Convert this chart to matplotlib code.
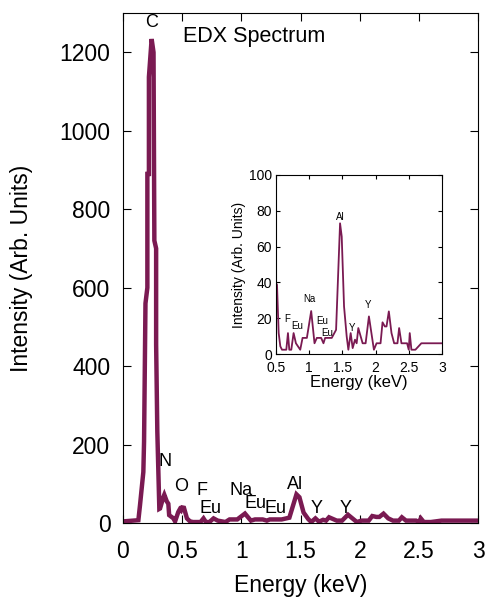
import matplotlib.pyplot as plt

plt.rcParams['font.family'] = ['Liberation Sans', 'DejaVu Sans']

# spectrum (keV, counts)
energy = [0.0, 0.13, 0.144, 0.172, 0.178, 0.19, 0.206, 0.206, 0.219, 0.219, 0.242,
          0.258, 0.265, 0.28, 0.28, 0.29, 0.307, 0.313, 0.341, 0.349, 0.37, 0.383,
          0.39, 0.425, 0.44,
          0.467, 0.48, 0.49, 0.5, 0.515, 0.54, 0.565, 0.59, 0.655, 0.68, 0.70,
          0.73, 0.765, 0.8, 0.865, 0.9, 0.965, 1.03, 1.08, 1.115, 1.18, 1.215,
          1.24, 1.34, 1.405, 1.465, 1.49, 1.525, 1.565, 1.59, 1.625, 1.655, 1.69,
          1.715, 1.74, 1.805, 1.85, 1.9, 1.975, 2.015, 2.075, 2.105, 2.14, 2.165,
          2.2, 2.24, 2.28, 2.33, 2.355, 2.39, 2.475, 2.5, 2.515, 2.54, 2.6, 2.69,
          3.0]
counts = [4, 7, 46, 130, 207, 560, 600, 890, 890, 1137, 1234,
          1200, 720, 700, 455, 233, 36, 37, 66, 72, 55, 49,
          20, 12, 4,
          28, 35, 32, 39.6, 38.7, 11.7, 4.3, 2.4, 2.4, 11.7, 2.4,
          2.4, 11.7, 6, 2.4, 9, 9, 24, 6, 9, 9, 6,
          9, 9, 13.5, 73, 65.6, 26.6, 9.8, 2.4, 11.7, 3.3, 8,
          6, 14.5, 6, 6, 21, 2.4, 6, 6, 17.7, 15.4, 15.4,
          23.8, 11.7, 6, 6, 14.5, 6, 6, 2.4, 11.7, 2.4, 2.4, 6,
          6]

main_labels = ['C', 'N', 'O', 'F', 'Eu', 'Na', 'Eu', 'Eu', 'Al', 'Y', 'Y']
main_lx = [0.245, 0.355, 0.488, 0.665, 0.741, 0.997, 1.118, 1.29, 1.454, 1.637, 1.88]
main_ly = [1275, 156, 92, 84, 38, 84, 49, 36, 97, 36, 38]

inset_labels = ['F', 'Eu', 'Na', 'Eu', 'Eu', 'Al', 'Y', 'Y']
inset_lx = [0.675, 0.815, 1.005, 1.195, 1.275, 1.465, 1.64, 1.89]
inset_ly = [19.5, 15.4, 30.7, 18.2, 11.7, 76.4, 14.5, 27.1]

color = '#7a1a52'

fig = plt.figure(figsize=(4.88, 5.97), dpi=100)
ax = fig.add_axes([0.252, 0.124, 0.728, 0.854])
ax.plot(energy, counts, color=color, lw=3.2, solid_joinstyle='miter')
ax.set_xlim(0, 3)
ax.set_ylim(0, 1300)
ax.set_xticks([0, 0.5, 1, 1.5, 2, 2.5, 3])
ax.set_xticklabels(['0', '0.5', '1', '1.5', '2', '2.5', '3'])
ax.set_yticks(range(0, 1201, 200))
ax.tick_params(direction='in', top=True, right=True, labelsize=16.5, length=6)
ax.tick_params(axis='x', pad=12)
ax.tick_params(axis='y', pad=9)
ax.set_xlabel('Energy (keV)', fontsize=16.5, labelpad=8)
ax.set_ylabel('Intensity (Arb. Units)', fontsize=16.5, labelpad=19)
ax.text(0.17, 0.955, 'EDX Spectrum', transform=ax.transAxes, fontsize=15.5,
        va='center', ha='left')
for lab, x, y in zip(main_labels, main_lx, main_ly):
    ax.text(x, y, lab, fontsize=13, ha='center', va='center')

ins = fig.add_axes([0.5656, 0.407, 0.340, 0.300])
ins.plot(energy, counts, color=color, lw=1.3)
ins.set_xlim(0.5, 3)
ins.set_ylim(0, 100)
ins.set_xticks([0.5, 1, 1.5, 2, 2.5, 3])
ins.set_xticklabels(['0.5', '1', '1.5', '2', '2.5', '3'])
ins.set_yticks(range(0, 101, 20))
ins.tick_params(direction='in', top=True, right=True, labelsize=10, length=3, pad=3)
ins.tick_params(axis='x', pad=5)
ins.set_xlabel('Energy (keV)', fontsize=12, labelpad=0)
ins.set_ylabel('Intensity (Arb. Units)', fontsize=10, labelpad=2)
for lab, x, y in zip(inset_labels, inset_lx, inset_ly):
    ins.text(x, y, lab, fontsize=7, ha='center', va='center')

fig.savefig('out.png', dpi=100)
